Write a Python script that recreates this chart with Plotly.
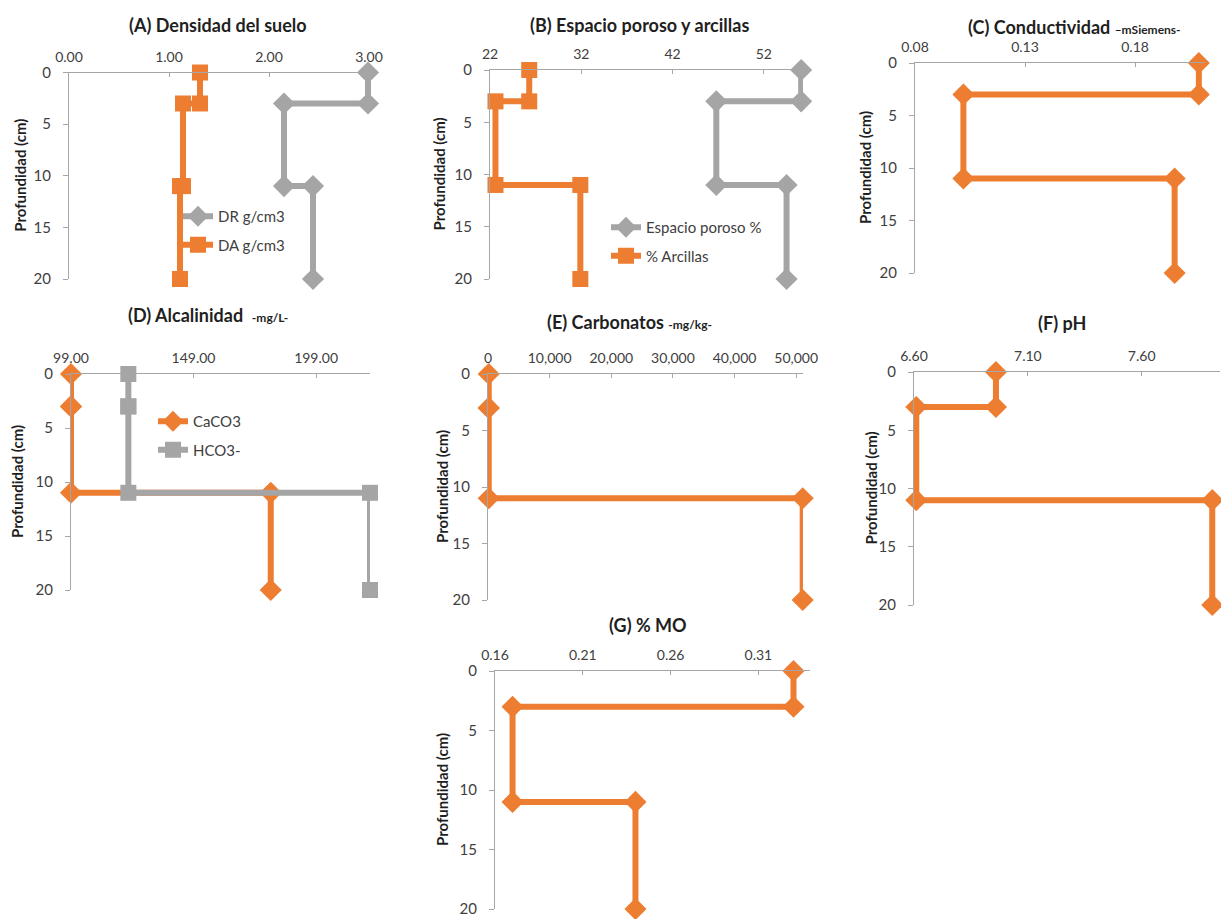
import plotly.graph_objects as go

W, H = 1221, 919

# ---------------- data ----------------
depth = [0, 3, 3, 11, 11, 20]
depth_ticks = [0, 5, 10, 15, 20]

dr_gcm3 = [2.99, 2.99, 2.15, 2.15, 2.44, 2.44]
da_gcm3 = [1.31, 1.31, 1.14, 1.14, 1.11, 1.11]
ticks_a = [0.0, 1.0, 2.0, 3.0]

espacio_poroso = [56.1, 56.1, 46.8, 46.8, 54.5, 54.5]
arcillas = [26.3, 26.3, 22.6, 22.6, 31.9, 31.9]
ticks_b = [22, 32, 42, 52]

conductividad = [0.209, 0.209, 0.102, 0.102, 0.198, 0.198]
ticks_c = [0.08, 0.13, 0.18]

caco3 = [99.0, 99.0, 99.0, 99.0, 180.5, 180.5]
hco3 = [122.4, 122.4, 122.4, 122.4, 221.0, 221.0]
ticks_d = [99.0, 149.0, 199.0]

carbonatos = [120, 120, 120, 120, 51050, 51050]
ticks_e = [0, 10000, 20000, 30000, 40000, 50000]

ph = [6.96, 6.96, 6.61, 6.61, 7.91, 7.91]
ticks_f = [6.60, 7.10, 7.60]

mo = [0.330, 0.330, 0.170, 0.170, 0.240, 0.240]
ticks_g = [0.16, 0.21, 0.26, 0.31]

ORANGE = "#ED7D31"
GRAY = "#A5A5A5"
AXIS = "#A6A6A6"
TXT = "#404040"
FONT = "Lato"

# ---------------- layout of panels (pixel boxes) ----------------
panels = [
    dict(box=(69, 72.5, 372, 279), xr=[0, 3.03], tv=ticks_a, tf=".2f",
         title="<b>(A) Densidad del suelo</b>", tpos=(218, 25), yt=20),
    dict(box=(490, 70, 803, 279), xr=[22, 56.3], tv=ticks_b, tf="d",
         title="<b>(B) Espacio poroso y arcillas</b>", tpos=(639, 25), yt=438),
    dict(box=(915, 63, 1205, 273), xr=[0.08, 0.2118], tv=ticks_c, tf=".2f",
         title="<b>(C) Conductividad <span style='font-size:12px'>–mSiemens-</span></b>",
         tpos=(1074, 27), yt=865),
    dict(box=(71, 374, 370, 590), xr=[99, 221.0], tv=ticks_d, tf=".2f",
         title="<b>(D) Alcalinidad  <span style='font-size:12px'>-mg/L-</span></b>",
         tpos=(208, 315), yt=17),
    dict(box=(488, 374, 803, 600), xr=[0, 51100], tv=ticks_e, tf=",d",
         title="<b>(E) Carbonatos <span style='font-size:12px'>-mg/kg-</span></b>",
         tpos=(629, 322), yt=442),
    dict(box=(914, 372, 1220, 605), xr=[6.6, 7.944], tv=ticks_f, tf=".2f",
         title="<b>(F) pH</b>", tpos=(1062, 323), yt=870),
    dict(box=(495, 671, 810, 909), xr=[0.16, 0.3394], tv=ticks_g, tf=".2f",
         title="<b>(G) % MO</b>", tpos=(648, 625), yt=442),
]

fig = go.Figure()


def px_x(p):
    return p / W


def px_y(p):
    return 1 - p / H


for i, p in enumerate(panels):
    n = "" if i == 0 else str(i + 1)
    l, t, r, b = p["box"]
    fig.update_layout(**{
        f"xaxis{n}": dict(
            domain=[px_x(l), px_x(r)], range=p["xr"], side="top",
            anchor=f"y{n}", tickmode="array", tickvals=p["tv"], tickformat=p["tf"],
            showline=True, linecolor=AXIS, linewidth=1, showgrid=False, zeroline=False,
            ticks="inside", ticklen=4, tickcolor=AXIS, ticklabelstandoff=4,
            tickfont=dict(family=FONT, size=14, color=TXT), fixedrange=True,
            automargin=False,
        ),
        f"yaxis{n}": dict(
            domain=[px_y(b), px_y(t)], range=[20, 0], anchor=f"x{n}",
            tickmode="array", tickvals=depth_ticks,
            showline=True, linecolor=AXIS, linewidth=1, showgrid=False, zeroline=False,
            ticks="outside", ticklen=5, tickcolor=AXIS, ticklabelstandoff=9,
            tickfont=dict(family=FONT, size=15, color=TXT), fixedrange=True,
            automargin=False,
        ),
    })
    fig.add_annotation(text=p["title"], x=px_x(p["tpos"][0]), y=px_y(p["tpos"][1]),
                       xref="paper", yref="paper", showarrow=False,
                       xanchor="center", yanchor="middle",
                       font=dict(family=FONT, size=18, color="#1F1F1F"))
    fig.add_annotation(text="<b>Profundidad (cm)</b>", x=px_x(p["yt"]),
                       y=px_y((t + b) / 2), xref="paper", yref="paper",
                       showarrow=False, textangle=-90, xanchor="center",
                       yanchor="middle", font=dict(family=FONT, size=15, color="#1F1F1F"))


def add(xs, name, color, symbol, axis_n, legend=None, size=17):
    fig.add_trace(go.Scatter(
        x=xs, y=depth, mode="lines+markers", name=name,
        line=dict(color=color, width=6),
        marker=dict(color=color, symbol=symbol, size=size),
        xaxis=f"x{axis_n}", yaxis=f"y{axis_n}", cliponaxis=False,
        showlegend=legend is not None, legend=legend or "legend",
        legendgroup=name,
    ))


add(dr_gcm3, "DR g/cm3", GRAY, "diamond", "", legend="legend")
add(da_gcm3, "DA g/cm3", ORANGE, "square", "", legend="legend", size=16)
add(espacio_poroso, "Espacio poroso %", GRAY, "diamond", "2", legend="legend2")
add(arcillas, "% Arcillas", ORANGE, "square", "2", legend="legend2", size=16)
add(conductividad, "Conductividad", ORANGE, "diamond", "3")
add(caco3, "CaCO3", ORANGE, "diamond", "4", legend="legend3")
add(hco3, "HCO3-", GRAY, "square", "4", legend="legend3", size=16)
add(carbonatos, "Carbonatos", ORANGE, "diamond", "5")
add(ph, "pH", ORANGE, "diamond", "6")
add(mo, "% MO", ORANGE, "diamond", "7")


def legend_at(text_left, first_y):
    return dict(x=px_x(text_left - 42), y=px_y(first_y - 12), xanchor="left",
                yanchor="top", bgcolor="rgba(0,0,0,0)", borderwidth=0,
                font=dict(family=FONT, size=15, color=TXT), tracegroupgap=6,
                itemclick=False, itemdoubleclick=False)


fig.update_layout(
    width=W, height=H, margin=dict(l=0, r=0, t=0, b=0, autoexpand=False),
    paper_bgcolor="white", plot_bgcolor="white",
    showlegend=True,
    legend=legend_at(220, 212),
    legend2=legend_at(648, 223),
    legend3=legend_at(195, 417),
)

fig.write_html(
    "out.html",
    config={"displayModeBar": False},
    post_script="document.body.style.margin='0';document.body.style.overflow='hidden';",
)
